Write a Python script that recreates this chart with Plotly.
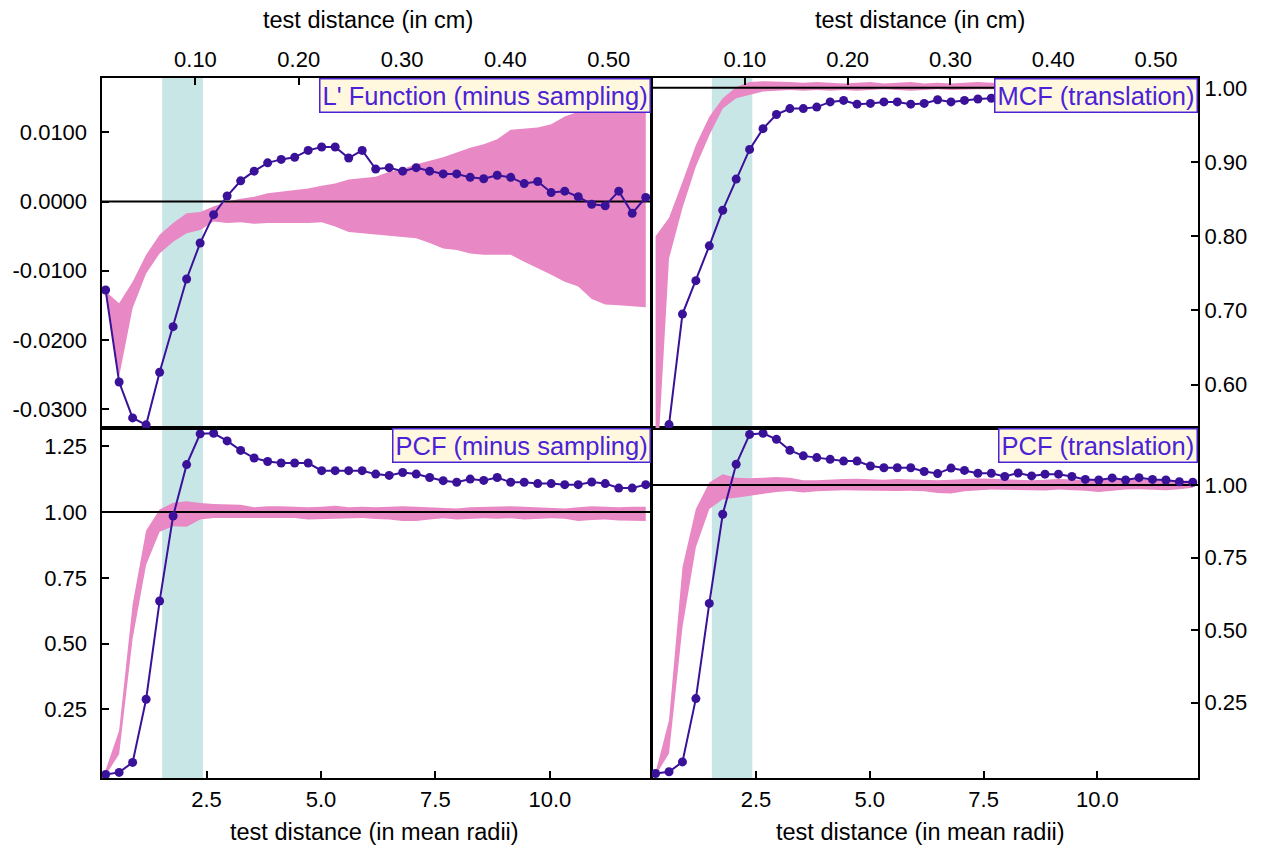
import plotly.graph_objects as go

# Test distances (in mean radii) at which every statistic was evaluated
DIST_RADII = [0.295, 0.590, 0.885, 1.180, 1.475, 1.770, 2.065, 2.360, 2.655, 2.950,
              3.245, 3.540, 3.835, 4.130, 4.425, 4.720, 5.015, 5.310, 5.605, 5.900,
              6.195, 6.490, 6.785, 7.080, 7.375, 7.670, 7.965, 8.260, 8.555, 8.850,
              9.145, 9.440, 9.735, 10.030, 10.325, 10.620, 10.915, 11.210, 11.505, 11.800,
              12.095]
CM_PER_RADIUS = 0.0443
X_RANGE_RADII = [0.205, 12.21]
HIGHLIGHT_RADII = [1.53, 2.42]

# L' function (minus sampling): observed values and simulation envelope
LPRIME_OBS = [-0.0128, -0.0261, -0.0313, -0.0323, -0.0247, -0.0181, -0.0112, -0.0060, -0.0019, 0.0008,
              0.0030, 0.0044, 0.0056, 0.0061, 0.0064, 0.0074, 0.0079, 0.0079, 0.0063, 0.0074,
              0.0047, 0.0049, 0.0044, 0.0049, 0.0044, 0.0040, 0.0040, 0.0035, 0.0033, 0.0038,
              0.0035, 0.0026, 0.0029, 0.0013, 0.0015, 0.0007, -0.0004, -0.0006, 0.0015, -0.0017,
              0.0006]
LPRIME_HI = [-0.0130, -0.0147, -0.0116, -0.0077, -0.0048, -0.0031, -0.0017, -0.0015, -0.0007, 0.0000,
             0.0004, 0.0007, 0.0012, 0.0014, 0.0016, 0.0019, 0.0023, 0.0026, 0.0032, 0.0034,
             0.0036, 0.0043, 0.0047, 0.0054, 0.0059, 0.0064, 0.0071, 0.0078, 0.0083, 0.0090,
             0.0104, 0.0105, 0.0107, 0.0112, 0.0123, 0.0130, 0.0136, 0.0141, 0.0146, 0.0150,
             0.0155]
LPRIME_LO = [-0.0135, -0.0253, -0.0154, -0.0104, -0.0075, -0.0058, -0.0046, -0.0041, -0.0029, -0.0031,
             -0.0030, -0.0032, -0.0031, -0.0031, -0.0032, -0.0031, -0.0030, -0.0036, -0.0044, -0.0046,
             -0.0048, -0.0049, -0.0051, -0.0053, -0.0060, -0.0068, -0.0070, -0.0075, -0.0077, -0.0077,
             -0.0077, -0.0087, -0.0096, -0.0106, -0.0116, -0.0123, -0.0141, -0.0149, -0.0150, -0.0151,
             -0.0153]

# Mark correlation function (translation)
MCF_OBS = [0.350, 0.546, 0.695, 0.740, 0.787, 0.835, 0.877, 0.917, 0.945, 0.964,
           0.972, 0.972, 0.974, 0.981, 0.983, 0.978, 0.979, 0.981, 0.981, 0.978,
           0.979, 0.984, 0.981, 0.983, 0.985, 0.986, 0.985, 0.987, 0.986, 0.988,
           0.987, 0.986, 0.988, 0.987, 0.989, 0.988, 0.987, 0.989, 0.988, 0.990,
           0.989]
MCF_HI = [0.800, 0.825, 0.873, 0.923, 0.961, 0.986, 1.001, 1.008, 1.009, 1.009,
          1.008, 1.007, 1.008, 1.007, 1.006, 1.007, 1.008, 1.006, 1.007, 1.008,
          1.006, 1.007, 1.006, 1.007, 1.008, 1.007, 1.006, 1.007, 1.008, 1.006,
          1.007, 1.006, 1.007, 1.008, 1.007, 1.006, 1.007, 1.006, 1.008, 1.007,
          1.006]
MCF_LO = [0.450, 0.770, 0.838, 0.894, 0.936, 0.972, 0.986, 0.991, 0.995, 0.996,
          0.997, 0.996, 0.997, 0.996, 0.997, 0.996, 0.997, 0.998, 0.997, 0.996,
          0.997, 0.998, 0.997, 0.998, 0.998, 0.998, 0.997, 0.998, 0.998, 0.997,
          0.998, 0.998, 0.997, 0.998, 0.998, 0.997, 0.998, 0.998, 0.997, 0.998,
          0.998]

# Pair correlation function (minus sampling)
PCFM_OBS = [0.003, 0.011, 0.049, 0.289, 0.662, 0.985, 1.180, 1.297, 1.299, 1.270,
            1.234, 1.205, 1.192, 1.186, 1.186, 1.186, 1.157, 1.157, 1.157, 1.157,
            1.144, 1.139, 1.150, 1.144, 1.131, 1.119, 1.113, 1.125, 1.120, 1.131,
            1.113, 1.113, 1.108, 1.108, 1.104, 1.104, 1.114, 1.108, 1.091, 1.091,
            1.104]
PCFM_HI = [0.020, 0.170, 0.650, 0.930, 1.010, 1.035, 1.041, 1.034, 1.030, 1.030,
           1.028, 1.018, 1.022, 1.022, 1.020, 1.018, 1.020, 1.024, 1.018, 1.020,
           1.018, 1.020, 1.022, 1.020, 1.018, 1.016, 1.013, 1.018, 1.020, 1.022,
           1.022, 1.020, 1.018, 1.015, 1.013, 1.018, 1.022, 1.020, 1.018, 1.020,
           1.020]
PCFM_LO = [0.000, 0.080, 0.520, 0.800, 0.925, 0.946, 0.944, 0.972, 0.977, 0.977,
           0.977, 0.976, 0.975, 0.976, 0.977, 0.972, 0.973, 0.976, 0.976, 0.977,
           0.973, 0.972, 0.966, 0.966, 0.972, 0.976, 0.972, 0.975, 0.976, 0.974,
           0.976, 0.972, 0.975, 0.976, 0.974, 0.966, 0.970, 0.972, 0.968, 0.966,
           0.966]

# Pair correlation function (translation)
PCFT_OBS = [0.006, 0.012, 0.046, 0.264, 0.592, 0.899, 1.071, 1.174, 1.178, 1.157,
            1.119, 1.100, 1.094, 1.088, 1.082, 1.082, 1.065, 1.059, 1.059, 1.059,
            1.046, 1.039, 1.058, 1.050, 1.040, 1.040, 1.029, 1.041, 1.031, 1.037,
            1.037, 1.029, 1.019, 1.017, 1.024, 1.017, 1.025, 1.019, 1.017, 1.011,
            1.009]
PCFT_HI = [0.010, 0.190, 0.716, 0.917, 1.008, 1.037, 1.025, 1.023, 1.025, 1.027,
           1.025, 1.016, 1.016, 1.019, 1.020, 1.021, 1.020, 1.018, 1.020, 1.019,
           1.018, 1.016, 1.018, 1.020, 1.022, 1.021, 1.020, 1.018, 1.016, 1.018,
           1.020, 1.019, 1.018, 1.017, 1.020, 1.021, 1.019, 1.018, 1.017, 1.016,
           1.014]
PCFT_LO = [0.000, 0.075, 0.510, 0.785, 0.917, 0.951, 0.956, 0.962, 0.970, 0.976,
           0.979, 0.974, 0.978, 0.980, 0.982, 0.981, 0.980, 0.978, 0.979, 0.980,
           0.978, 0.972, 0.970, 0.978, 0.982, 0.984, 0.983, 0.982, 0.980, 0.981,
           0.984, 0.983, 0.980, 0.976, 0.980, 0.984, 0.985, 0.983, 0.982, 0.985,
           0.990]

# Axis ticks
X_RADII_TICKS = [2.5, 5.0, 7.5, 10.0]
X_RADII_LABELS = ["2.5", "5.0", "7.5", "10.0"]
X_CM_TICKS = [0.10, 0.20, 0.30, 0.40, 0.50]
X_CM_LABELS = ["0.10", "0.20", "0.30", "0.40", "0.50"]
LPRIME_TICKS = [-0.03, -0.02, -0.01, 0.0, 0.01]
LPRIME_LABELS = ["-0.0300", "-0.0200", "-0.0100", "0.0000", "0.0100"]
MCF_TICKS = [0.6, 0.7, 0.8, 0.9, 1.0]
MCF_LABELS = ["0.60", "0.70", "0.80", "0.90", "1.00"]
PCFM_TICKS = [0.25, 0.5, 0.75, 1.0, 1.25]
PCFM_LABELS = ["0.25", "0.50", "0.75", "1.00", "1.25"]
PCFT_TICKS = [0.25, 0.5, 0.75, 1.0]
PCFT_LABELS = ["0.25", "0.50", "0.75", "1.00"]

PANEL_TITLES = ["L' Function (minus sampling)", "MCF (translation)",
                "PCF (minus sampling)", "PCF (translation)"]

# Styling
FONT = "Liberation Sans, Arial, Helvetica, sans-serif"
OBS_COLOR = "#3A1299"
ENV_COLOR = "#E888C4"
HIGHLIGHT_COLOR = "#C8E6E6"
BOX_FILL = "#FFF8DF"
BOX_EDGE = "#4B22D6"
TEXT_BLUE = "#4B22D6"
W, H = 1270, 848

# Panel geometry in pixels
LEFT_X = (101.5, 651.0)
RIGHT_X = (651.5, 1198.0)
TOP_Y = (76.0, 427.3)
BOT_Y = (427.3, 778.3)
TITLE_CENTERS_TOP = (368, 920)
TITLE_CENTERS_BOTTOM = (375, 920)


def xdom(px):
    return [px[0] / W, px[1] / W]


def ydom(py):
    return [1 - py[1] / H, 1 - py[0] / H]


to_cm = lambda vals: [v * CM_PER_RADIUS for v in vals]
DIST_CM = to_cm(DIST_RADII)

fig = go.Figure()

panels = [
    # (xaxis id, yaxis id, x values, x range, obs, hi, lo, reference level, title)
    ("x3", "y3", DIST_CM, to_cm(X_RANGE_RADII), LPRIME_OBS, LPRIME_HI, LPRIME_LO, 0.0, PANEL_TITLES[0]),
    ("x4", "y4", DIST_CM, to_cm(X_RANGE_RADII), MCF_OBS, MCF_HI, MCF_LO, 1.0, PANEL_TITLES[1]),
    ("x", "y", DIST_RADII, X_RANGE_RADII, PCFM_OBS, PCFM_HI, PCFM_LO, 1.0, PANEL_TITLES[2]),
    ("x2", "y2", DIST_RADII, X_RANGE_RADII, PCFT_OBS, PCFT_HI, PCFT_LO, 1.0, PANEL_TITLES[3]),
]

shapes = []
annotations = []
for xa, ya, xs, xr, obs, hi, lo, ref, title in panels:
    # simulation envelope
    fig.add_trace(go.Scatter(x=xs, y=lo, xaxis=xa, yaxis=ya, mode="lines",
                             line=dict(width=0, color=ENV_COLOR), hoverinfo="skip",
                             showlegend=False))
    fig.add_trace(go.Scatter(x=xs, y=hi, xaxis=xa, yaxis=ya, mode="lines",
                             line=dict(width=0, color=ENV_COLOR), fill="tonexty",
                             fillcolor=ENV_COLOR, hoverinfo="skip", showlegend=False))
    # reference level across the panel
    fig.add_trace(go.Scatter(x=xr, y=[ref, ref], xaxis=xa, yaxis=ya, mode="lines",
                             line=dict(width=2, color="black"), hoverinfo="skip",
                             showlegend=False, cliponaxis=False))
    # observed statistic
    fig.add_trace(go.Scatter(x=xs, y=obs, xaxis=xa, yaxis=ya, mode="lines+markers",
                             line=dict(width=2, color=OBS_COLOR),
                             marker=dict(size=9, color=OBS_COLOR), showlegend=False))
    # highlighted distance band
    hx = HIGHLIGHT_RADII if xa in ("x", "x2") else to_cm(HIGHLIGHT_RADII)
    shapes.append(dict(type="rect", xref=xa, yref=f"{ya} domain", x0=hx[0], x1=hx[1],
                       y0=0, y1=1, fillcolor=HIGHLIGHT_COLOR, line=dict(width=0),
                       layer="below"))
    annotations.append(dict(text=title, xref=f"{xa} domain", yref=f"{ya} domain",
                            x=1, y=1, xanchor="right", yanchor="top", showarrow=False,
                            font=dict(family=FONT, size=25.5, color=TEXT_BLUE),
                            bgcolor=BOX_FILL, bordercolor=BOX_EDGE, borderwidth=1.5,
                            borderpad=2))

axis_common = dict(showline=True, linecolor="black", linewidth=2, mirror=True,
                   ticks="inside", ticklen=7, tickwidth=2, tickcolor="black",
                   showgrid=False, zeroline=False,
                   tickfont=dict(family=FONT, size=22, color="black"))

fig.update_layout(
    width=W, height=H,
    margin=dict(l=0, r=0, t=0, b=0),
    paper_bgcolor="white", plot_bgcolor="white",
    showlegend=False,
    xaxis=dict(domain=xdom(LEFT_X), anchor="y", range=X_RANGE_RADII,
               tickvals=X_RADII_TICKS, ticktext=X_RADII_LABELS, **axis_common),
    yaxis=dict(domain=ydom(BOT_Y), anchor="x", range=[-0.012, 1.318], side="left",
               tickvals=PCFM_TICKS, ticktext=PCFM_LABELS, ticklabelstandoff=8, **axis_common),
    xaxis2=dict(domain=xdom(RIGHT_X), anchor="y2", range=X_RANGE_RADII,
                tickvals=X_RADII_TICKS, ticktext=X_RADII_LABELS, **axis_common),
    yaxis2=dict(domain=ydom(BOT_Y), anchor="x2", range=[-0.011, 1.195], side="right",
                tickvals=PCFT_TICKS, ticktext=PCFT_LABELS, **axis_common),
    xaxis3=dict(domain=xdom(LEFT_X), anchor="y3", range=to_cm(X_RANGE_RADII), side="top",
                tickvals=X_CM_TICKS, ticktext=X_CM_LABELS, **axis_common),
    yaxis3=dict(domain=ydom(TOP_Y), anchor="x3", range=[-0.0328, 0.0179], side="left",
                tickvals=LPRIME_TICKS, ticktext=LPRIME_LABELS, ticklabelstandoff=8, **axis_common),
    xaxis4=dict(domain=xdom(RIGHT_X), anchor="y4", range=to_cm(X_RANGE_RADII), side="top",
                tickvals=X_CM_TICKS, ticktext=X_CM_LABELS, **axis_common),
    yaxis4=dict(domain=ydom(TOP_Y), anchor="x4", range=[0.541, 1.0135], side="right",
                tickvals=MCF_TICKS, ticktext=MCF_LABELS, **axis_common),
    shapes=shapes,
)

# Axis titles
for cx in TITLE_CENTERS_TOP:
    annotations.append(dict(text="test distance (in cm)", xref="paper", yref="paper",
                            x=cx / W, y=1 - 18 / H, xanchor="center", yanchor="middle",
                            showarrow=False, font=dict(family=FONT, size=23.5, color="black")))
for cx in TITLE_CENTERS_BOTTOM:
    annotations.append(dict(text="test distance (in mean radii)", xref="paper", yref="paper",
                            x=cx / W, y=1 - 832 / H, xanchor="center", yanchor="middle",
                            showarrow=False, font=dict(family=FONT, size=23.5, color="black")))

fig.update_layout(annotations=annotations)

fig.write_html("out.html")
